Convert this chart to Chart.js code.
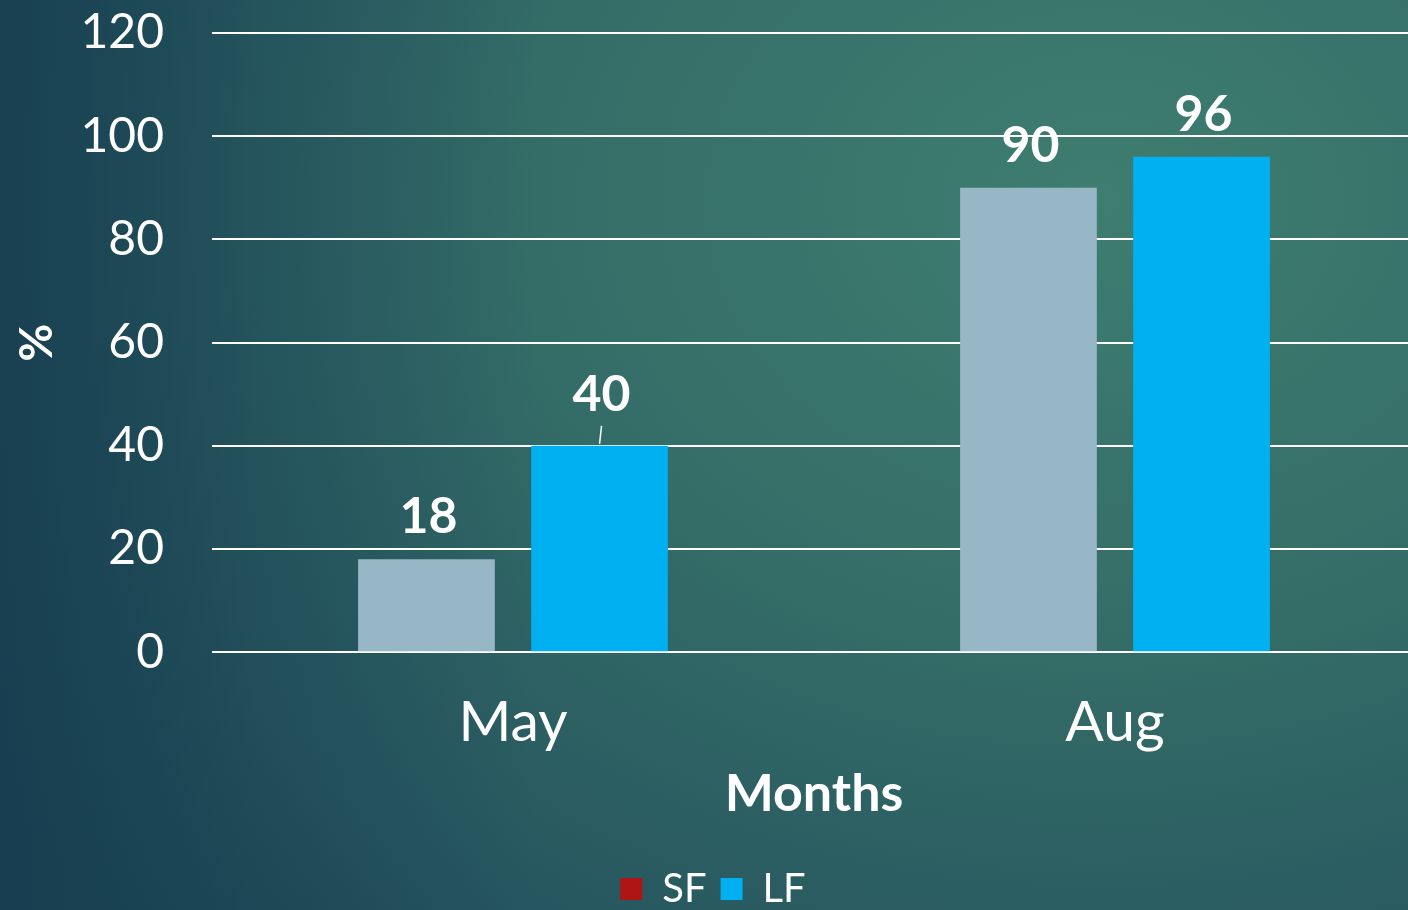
<!DOCTYPE html>
<html>
<head>
<meta charset="utf-8">
<script src="https://cdn.jsdelivr.net/npm/chart.js@4"></script>
<style>
  html, body { margin: 0; padding: 0; }
  body {
    width: 1408px; height: 910px; overflow: hidden;
    background:
      linear-gradient(90deg, rgba(23,62,80,0.9) 0%, rgba(23,62,80,0.35) 18%, rgba(23,62,80,0) 38%),
      radial-gradient(ellipse 95% 115% at 78% 22%, #3e7d70 0%, #356e68 40%, #26565f 80%, #1c4756 100%);
  }
  #wrap { position: relative; width: 1416px; height: 910px; }
</style>
</head>
<body>
<div id="wrap"><canvas id="chart"></canvas></div>
<script>
const months = ['May', 'Aug'];
const sfValues = [18, 90];
const lfValues = [40, 96];
const seriesNames = ['SF', 'LF'];

const FONT = 'Lato, "Open Sans", sans-serif';

// draws the bold value labels over each bar
const valueLabels = {
  id: 'valueLabels',
  afterDatasetsDraw(chart) {
    const ctx = chart.ctx;
    ctx.save();
    ctx.fillStyle = '#ffffff';
    ctx.font = 'bold 50px ' + FONT;
    ctx.textAlign = 'center';
    ctx.textBaseline = 'middle';
    chart.data.datasets.forEach((ds, i) => {
      chart.getDatasetMeta(i).data.forEach((bar, j) => {
        let lift = 42;
        if (i === 1 && j === 0) {
          lift = 51;
          ctx.strokeStyle = '#ffffff';
          ctx.lineWidth = 1.5;
          ctx.beginPath();
          ctx.moveTo(bar.x, bar.y - 2);
          ctx.lineTo(bar.x + 2, bar.y - 20);
          ctx.stroke();
        }
        ctx.fillText(ds.data[j], bar.x + 2, bar.y - lift);
      });
    });
    ctx.restore();
  }
};

new Chart(document.getElementById('chart'), {
  type: 'bar',
  data: {
    labels: months,
    datasets: [
      { label: seriesNames[0], data: sfValues, backgroundColor: '#97b6c6', legendColor: '#b01515' },
      { label: seriesNames[1], data: lfValues, backgroundColor: '#00b0f0', legendColor: '#00b0f0' }
    ]
  },
  options: {
    responsive: true,
    maintainAspectRatio: false,
    animation: false,
    categoryPercentage: 0.575,
    barPercentage: 0.79,
    layout: { padding: { top: 33, right: 0, bottom: -9, left: 10 } },
    plugins: {
      legend: {
        position: 'bottom',
        labels: {
          color: '#ffffff',
          font: { family: FONT, size: 40 },
          boxWidth: 22,
          boxHeight: 22,
          padding: 14,
          generateLabels(chart) {
            return chart.data.datasets.map((ds, i) => ({
              text: ds.label,
              fillStyle: ds.legendColor,
              strokeStyle: ds.legendColor,
              lineWidth: 0,
              fontColor: '#ffffff',
              datasetIndex: i
            }));
          }
        }
      },
      tooltip: { enabled: false }
    },
    scales: {
      x: {
        grid: { display: false },
        border: { display: false },
        ticks: { color: '#ffffff', font: { family: FONT, size: 57 }, padding: 28 },
        title: {
          display: true, text: 'Months', color: '#ffffff',
          font: { family: FONT, size: 52, weight: 'bold' },
          padding: { top: -22, bottom: 30 }
        }
      },
      y: {
        min: 0, max: 120,
        ticks: { stepSize: 20, color: '#ffffff', font: { family: FONT, size: 48 }, padding: 48 },
        grid: { color: '#ffffff', lineWidth: 2, drawTicks: false },
        border: { display: false },
        title: {
          display: true, text: '%', color: '#ffffff',
          font: { family: FONT, size: 46, weight: 'bold' },
          padding: { top: 0, bottom: 40 }
        },
        afterFit(scale) {
          scale.width = 202;
          scale.paddingTop = 0;
          scale.paddingBottom = 0;
        }
      }
    }
  },
  plugins: [valueLabels]
});
</script>
</body>
</html>
